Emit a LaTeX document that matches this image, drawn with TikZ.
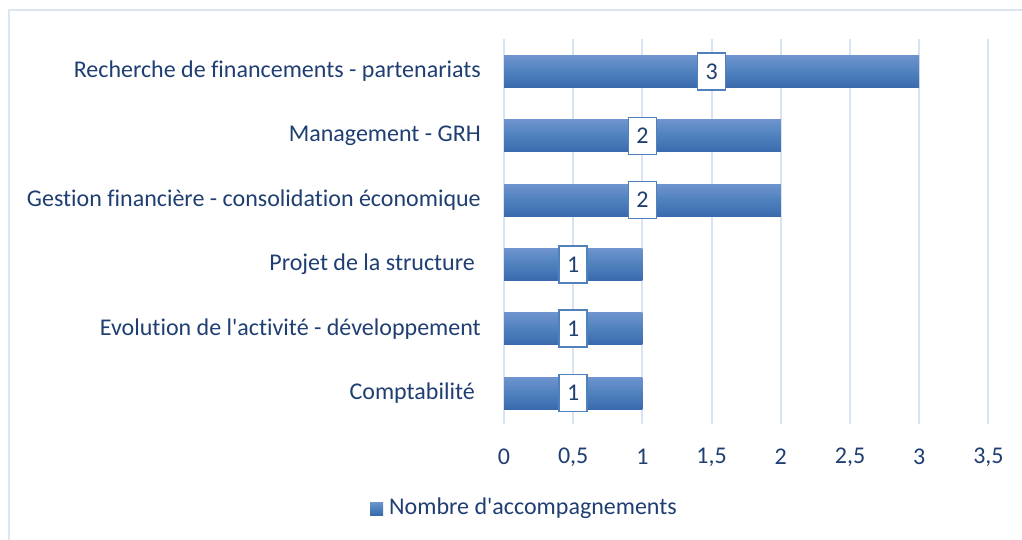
\documentclass[tikz,border=0pt]{standalone}
\usepackage{fontspec}
\setmainfont{Carlito}[Ligatures={NoCommon}]
\definecolor{txt}{RGB}{31,62,114}
\definecolor{grid}{RGB}{217,227,241}
\definecolor{frame}{RGB}{220,230,242}
\definecolor{bartop}{RGB}{110,148,207}
\definecolor{barmid}{RGB}{79,129,189}
\definecolor{barbot}{RGB}{58,106,174}
\definecolor{boxdraw}{RGB}{79,129,189}
\tikzset{
  chartfont/.style={font=\fontsize{24}{28}\selectfont},
  catlabel/.style={anchor=east,text=txt,chartfont,inner sep=0pt},
  ticklabel/.style={anchor=center,text=txt,chartfont,inner sep=0pt},
  gridline/.style={draw=grid,line width=2pt},
  barshape/.style={top color=bartop,bottom color=barbot,middle color=barmid,draw=none},
  valbox/.style={draw=boxdraw,line width=1.5pt,fill=white,minimum width=28pt,minimum height=37pt,inner sep=0pt,text=txt,chartfont},
}
\begin{document}
\begin{tikzpicture}[x=1pt,y=-1pt]
\useasboundingbox (0,0) rectangle (1022,540);
% outer frame
\draw[frame,line width=1.5pt] (9,545) -- (9,10) -- (1030,10);
% grid lines
\foreach \i in {0,...,7}{
  \draw[gridline] ({504+\i*69.2},39) -- ({504+\i*69.2},424);
}
% bars
\foreach \v/\y/\n in {3/71.5/a,2/135.8/b,2/200.1/c,1/264.4/d,1/328.7/e,1/393/f}{
  \fill[barshape] (504,\y-16) rectangle ({504+\v*138.4},\y+16);
  \node[valbox] (v\n) at ({504+\v*69.2},\y) {\v};
}
% category labels
\node[catlabel] (ca) at (481,71.5) {Recherche de financements - partenariats};
\node[catlabel] (cb) at (481,135.8) {Management - GRH};
\node[catlabel] (cc) at (481,200.1) {Gestion financière - consolidation économique};
\node[catlabel] (cd) at (475,264.4) {Projet de la structure};
\node[catlabel] (ce) at (481,328.7) {Evolution de l\textquotesingle activité - développement};
\node[catlabel] (cf) at (475,393) {Comptabilité};
% tick labels
\foreach \t/\l [count=\k] in {0/0,0.5/{0,5},1/1,1.5/{1,5},2/2,2.5/{2,5},3/3,3.5/{3,5}}{
  \node[ticklabel] (t\k) at ({504+\t*138.4},457) {\l};
}
% legend
\fill[barshape] (370,502) rectangle (383,515);
\node[anchor=west,text=txt,chartfont,inner sep=0pt] (leg) at (389,508.5) {Nombre d\textquotesingle accompagnements};
\end{tikzpicture}
\end{document}
